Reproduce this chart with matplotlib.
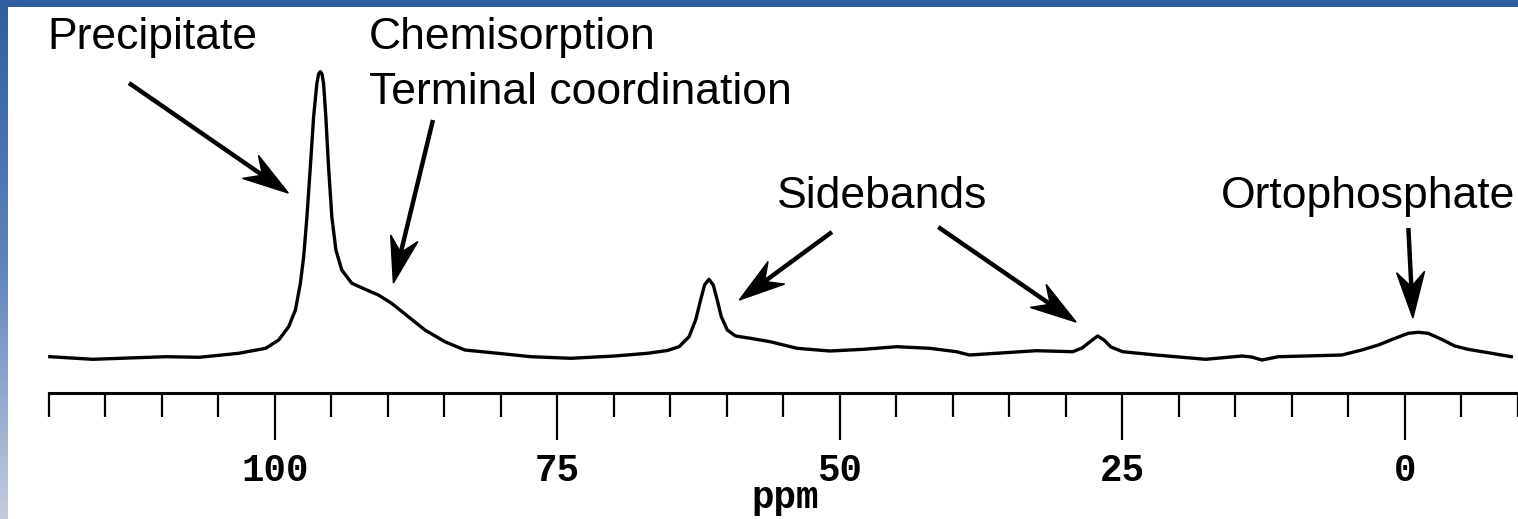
import matplotlib.pyplot as plt
import numpy as np
from matplotlib.colors import LinearSegmentedColormap
from matplotlib.patches import Polygon
from matplotlib.lines import Line2D
from matplotlib.transforms import IdentityTransform

# spektrum 31P NMR
ppm = [119.9, 116.1, 112.9, 109.6, 106.7, 103.8, 103.2, 100.8, 99.65, 98.77, 98.17, 97.73,
       97.44, 97.15, 96.85, 96.56, 96.27, 96.12, 95.97, 95.82, 95.68, 95.48, 95.24, 94.95,
       94.59, 94.07, 93.18, 92.0, 90.83, 89.66, 88.18, 86.71, 84.95, 83.18, 80.25, 77.34,
       73.81, 69.93, 67.02, 65.26, 64.22, 63.34, 62.76, 62.32, 61.97, 61.58, 61.2, 60.85,
       60.49, 59.96, 59.23, 57.91, 56.17, 53.79, 50.88, 47.91, 44.97, 42.06, 39.68, 38.54,
       36.16, 32.63, 29.39, 28.57, 27.78, 27.19, 26.63, 26.01, 24.98, 22.05, 17.64, 14.4,
       13.58, 12.64, 11.2, 8.82, 5.58, 3.82, 2.35, 0.88, -0.29, -1.17, -2.05, -3.24, -4.41,
       -5.58, -7.35, -9.41]
intensity = [3.3, 0.7, 2, 3.3, 2.7, 6, 6.7, 11.7, 20, 33.3, 50, 76.7,
             103.3, 143.3, 193.3, 243.3, 276.7, 286, 288.3, 286, 276.7, 243.3, 193.3, 143.3,
             110, 90, 76.7, 70.7, 65, 56.7, 43.3, 30, 18.3, 10, 6.7, 3.3,
             1.7, 4, 6.7, 9.5, 13.3, 23.3, 40, 60, 75, 80.7, 75, 60,
             43.3, 30, 24, 21.7, 18.3, 11.7, 9, 10.7, 13.3, 11.7, 8.3, 5,
             6.7, 9.3, 8.3, 12, 19, 24, 20, 13, 8.3, 5, 0.7, 4,
             3, 0, 3.3, 4, 5, 10, 15, 21.7, 26.7, 27.7, 26.7, 20.7, 14,
             10.7, 7.3, 3.3]

major_ticks = [100, 75, 50, 25, 0]
minor_ticks = list(range(-10, 125, 5))

# label, posisi teks (ppm, intensitas), pangkal panah, ujung panah
labels = ['Precipitate', 'Chemisorption', 'Terminal coordination', 'Sidebands', 'Ortophosphate']
label_pos = [(120.1, 311), (91.7, 311), (91.7, 256), (55.6, 152), (16.3, 152)]
arrow_tail = [(112.9, 277), (86.0, 240), (50.7, 128), (41.3, 133), (-0.3, 132)]
arrow_tip = [(98.8, 167), (89.5, 77), (58.9, 60), (29.1, 38), (-0.7, 42)]

fig = plt.figure(figsize=(15.18, 5.19), dpi=100)

# latar biru di belakang
bg = fig.add_axes([0, 0, 1, 1])
grad = np.linspace(0, 1, 256).reshape(-1, 1)
cmap = LinearSegmentedColormap.from_list('bg', ['#2f5e9e', '#5d83bb', '#c3cbe0'])
bg.imshow(grad, aspect='auto', cmap=cmap, extent=[0, 1, 0, 1])
bg.axis('off')

ax = fig.add_axes([8 / 1518, 0, 1510 / 1518, 512 / 519])
ax.set_facecolor('white')
ax.plot(ppm, intensity, color='black', lw=2.4, solid_joinstyle='round')

ax.set_xlim(123.6, -9.5)
ax.set_ylim(-159, 353)

for s in ['top', 'right', 'left']:
    ax.spines[s].set_visible(False)
ax.spines['bottom'].set_position(('data', -33))
ax.spines['bottom'].set_bounds(-10, 120)
ax.spines['bottom'].set_linewidth(2.2)
ax.set_yticks([])
ax.set_xticks(major_ticks)
ax.set_xticks(minor_ticks, minor=True)
ax.tick_params(axis='x', which='major', direction='out', length=34, width=1.6, pad=9)
ax.tick_params(axis='x', which='minor', direction='out', length=17, width=1.6)
for t in ax.get_xticklabels():
    t.set_fontfamily('Liberation Mono')
    t.set_fontweight('bold')
    t.set_fontsize(27)

ax.text(54.8, -148, 'ppm', ha='center', va='baseline', fontfamily='Liberation Mono',
        fontweight='bold', fontsize=27)

for lab, p in zip(labels, label_pos):
    ax.text(p[0], p[1], lab, ha='left', va='baseline', fontfamily='Liberation Sans', fontsize=32)

# panah dengan kepala berkait (dalam piksel layar)
L, W, notch = 46, 14, 0.68
for a, b in zip(arrow_tail, arrow_tip):
    p0 = ax.transData.transform(a)
    p1 = ax.transData.transform(b)
    d = (p1 - p0) / np.hypot(*(p1 - p0))
    n = np.array([-d[1], d[0]])
    back = p1 - notch * L * d
    fig.add_artist(Line2D([p0[0], back[0]], [p0[1], back[1]], color='black', lw=3.2,
                          transform=IdentityTransform(), solid_capstyle='butt'))
    head = [p1, p1 - L * d + W * n, back, p1 - L * d - W * n]
    fig.add_artist(Polygon(head, closed=True, color='black', transform=IdentityTransform()))

plt.savefig('out.png', dpi=100)
